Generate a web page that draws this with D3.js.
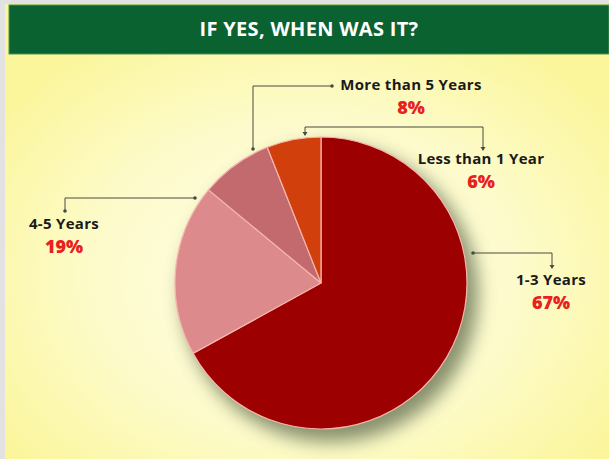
<!DOCTYPE html>
<html>
<head>
<meta charset="utf-8">
<script src="https://cdn.jsdelivr.net/npm/d3@7"></script>
<style>
  html, body { margin: 0; padding: 0; background: #e2e2e2; }
  svg { display: block; }
</style>
</head>
<body>
<svg id="chart" width="609" height="459"></svg>
<script>
// Survey answers: when it happened
const categories = ["1-3 Years", "4-5 Years", "More than 5 Years", "Less than 1 Year"];
const values = [67, 19, 8, 6];
const sliceColors = ["#9c0000", "#dc8a8c", "#c26a6d", "#d13f0c"];
const valueLabels = ["67%", "19%", "8%", "6%"];
const title = "IF YES, WHEN WAS IT?";

const W = 609, H = 459;
const FONT = "'Open Sans', Lato, sans-serif";
const svg = d3.select("#chart");
const defs = svg.append("defs");

// Cream-to-yellow panel background
const bg = defs.append("radialGradient").attr("id", "bgGrad")
  .attr("cx", 0.5).attr("cy", 0.6).attr("r", 0.62);
bg.append("stop").attr("offset", "0%").attr("stop-color", "#fefde6");
bg.append("stop").attr("offset", "55%").attr("stop-color", "#fdfbcc");
bg.append("stop").attr("offset", "100%").attr("stop-color", "#fbf69c");

const blur = defs.append("filter").attr("id", "shadowBlur")
  .attr("x", "-30%").attr("y", "-30%").attr("width", "160%").attr("height", "160%");
blur.append("feGaussianBlur").attr("stdDeviation", 9);

svg.append("rect").attr("x", 5).attr("y", 4).attr("width", W - 5).attr("height", H - 4)
  .attr("fill", "url(#bgGrad)");

// Title bar
svg.append("rect").attr("x", 9).attr("y", 5).attr("width", W - 9).attr("height", 49)
  .attr("fill", "#0b6231").attr("stroke", "#4f8f52").attr("stroke-width", 1);
svg.append("text").attr("x", 309).attr("y", 36)
  .attr("text-anchor", "middle")
  .attr("font-family", FONT)
  .attr("font-weight", 700).attr("font-size", 20).attr("fill", "#ffffff")
  .attr("letter-spacing", 0.3)
  .text(title);

// Pie
const cx = 321, cy = 283, r = 146;
const g = svg.append("g").attr("transform", `translate(${cx},${cy})`);

g.append("circle").attr("cx", 9).attr("cy", 11).attr("r", r + 2)
  .attr("fill", "#5f6c4c").attr("opacity", 0.75).attr("filter", "url(#shadowBlur)");

const pie = d3.pie().sort(null).value(d => d)
  .startAngle(0).endAngle(2 * Math.PI);
const arc = d3.arc().innerRadius(0).outerRadius(r);

g.selectAll("path.slice").data(pie(values)).join("path")
  .attr("class", "slice")
  .attr("d", arc)
  .attr("fill", (d, i) => sliceColors[i])
  .attr("stroke", "#f6b6ac")
  .attr("stroke-width", 1.2);

// Callout leaders
const leaderColor = "#4a4a40";
const leaders = [
  // 1-3 Years
  { pts: [[473, 253], [552, 253], [552, 268]], dotStart: true, arrowEnd: true },
  // 4-5 Years
  { pts: [[195, 198], [65, 198], [65, 211]], dotStart: true, dotEnd: true },
  // More than 5 Years
  { pts: [[332, 86], [253, 86], [253, 149]], dotStart: true, dotEnd: true },
  // Less than 1 Year
  { pts: [[483, 150], [483, 127], [305, 127], [305, 135]], arrowEnd: true, arrowStartDown: true }
];

const line = d3.line();
const arrowHead = p => `M${p[0] - 2.5},${p[1] - 3} L${p[0] + 2.5},${p[1] - 3} L${p[0]},${p[1] + 1} Z`;
leaders.forEach(l => {
  svg.append("path").attr("d", line(l.pts)).attr("fill", "none")
    .attr("stroke", leaderColor).attr("stroke-width", 1);
  const first = l.pts[0], last = l.pts[l.pts.length - 1];
  if (l.dotStart) {
    svg.append("circle").attr("cx", first[0]).attr("cy", first[1]).attr("r", 1.8).attr("fill", leaderColor);
  }
  if (l.dotEnd) {
    svg.append("circle").attr("cx", last[0]).attr("cy", last[1]).attr("r", 1.8).attr("fill", leaderColor);
  }
  if (l.arrowEnd) svg.append("path").attr("d", arrowHead(last)).attr("fill", leaderColor);
  if (l.arrowStartDown) svg.append("path").attr("d", arrowHead(first)).attr("fill", leaderColor);
});

// Category and percentage labels
const labelPos = [
  { x: 551, y: 285 },
  { x: 64, y: 229 },
  { x: 411, y: 90 },
  { x: 481, y: 164 }
];
categories.forEach((c, i) => {
  const p = labelPos[i];
  svg.append("text").attr("x", p.x).attr("y", p.y)
    .attr("text-anchor", "middle")
    .attr("font-family", FONT)
    .attr("font-weight", 700).attr("font-size", 15).attr("fill", "#1a1a1a")
    .attr("letter-spacing", 0.3)
    .text(c);
  svg.append("text").attr("x", p.x).attr("y", p.y + 24)
    .attr("text-anchor", "middle")
    .attr("font-family", FONT)
    .attr("font-weight", 800).attr("font-size", 18).attr("fill", "#e8201e")
    .text(valueLabels[i]);
});
</script>
</body>
</html>
